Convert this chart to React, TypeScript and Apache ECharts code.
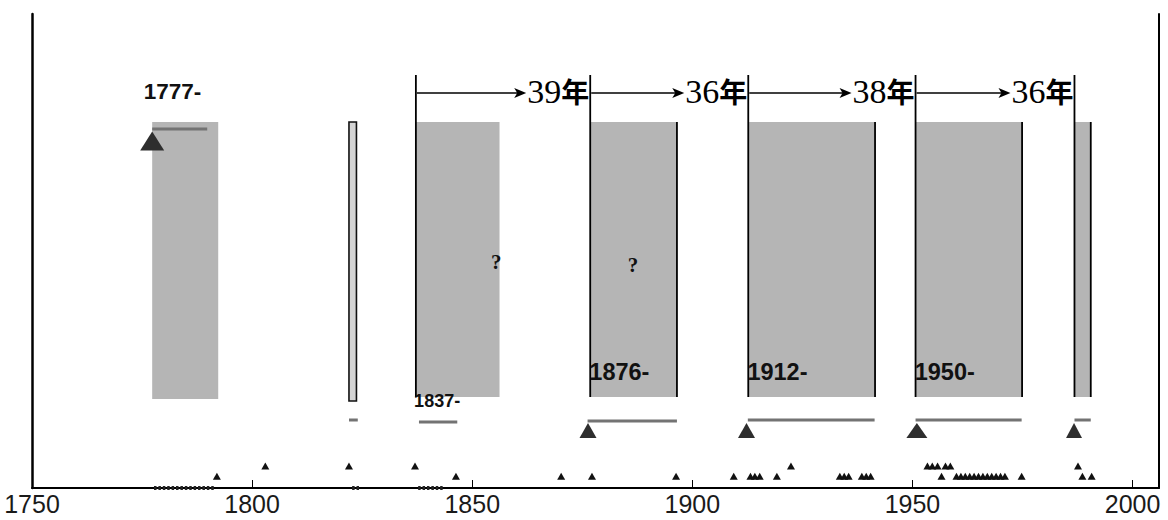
import React, { useEffect, useRef } from 'react';
import * as echarts from 'echarts';

// ---- axis ----
const X_MIN = 1750;
const X_MAX = 2006;
const X_INTERVAL = 50;
const Y_MIN = 0;
const Y_MAX = 474;

// ---- shaded periods (years, vertical levels) ----
const periodStart = [1777.3, 1837.2, 1876.8, 1912.7, 1950.7, 1986.9];
const periodEnd = [1792.3, 1856.2, 1896.5, 1941.5, 1974.9, 1990.5];
const periodTop = [366, 366, 366, 366, 366, 366];
const periodBottom = [89, 91, 91, 91, 91, 91];

// thin outlined period
const thinStart = [1822.0];
const thinEnd = [1823.7];
const thinTop = [366];
const thinBottom = [87];

// right edge black lines of periods
const rightLineYears = [1896.5, 1941.5, 1974.9, 1990.5];
const rightLineTop = 366;
const rightLineBottom = 91;

// brackets (start of cycles) and intervals
const bracketYears = [1837.2, 1876.8, 1912.7, 1950.7, 1986.8];
const bracketTop = 413;
const bracketBottom = 91;
const arrowLevel = 395;
const intervalLabels = ['39', '36', '38', '36'];

// gray horizontal bars
const barStart = [1777.3, 1822.0, 1837.9, 1876.2, 1912.6, 1950.7, 1986.8];
const barEnd = [1789.8, 1824.0, 1846.6, 1896.5, 1941.4, 1974.8, 1990.5];
const barLevel = [359, 68, 66, 67, 68, 68, 68];

// big triangles
const bigTriYears = [1777.3, 1876.3, 1912.3, 1951.0, 1986.7];
const bigTriLevel = [347, 57.5, 57.5, 57.5, 57.5];
const bigTriW = [24, 17, 17, 21, 16];
const bigTriH = [19, 15, 15, 15, 15];

// small triangles, upper and lower rows
const smallUpperYears = [1803, 1822, 1837, 1922.4, 1953.4, 1954.5, 1955.7, 1957.5, 1958.6, 1987.6];
const smallUpperLevel = 22;
const smallLowerYears = [
  1792, 1846.3, 1870.2, 1877.2, 1896.3, 1909.4, 1913.2, 1914.2, 1915.3, 1919.2,
  1933.5, 1934.5, 1935.5, 1938.5, 1939.5, 1940.5, 1956.6,
  1960, 1961, 1962, 1963, 1964, 1965, 1966, 1967, 1968, 1969, 1970, 1971,
  1974.8, 1988.6, 1990.7,
];
const smallLowerLevel = 11.7;

// tiny dots on the axis
const dotYears = [
  1778, 1779, 1780, 1781, 1782, 1783, 1784, 1785, 1786, 1787, 1788, 1789, 1790, 1791,
  1823, 1824,
  1838, 1839, 1840, 1841, 1842, 1843,
];

// text labels
const labelText = ['1777-', '1837-', '1876-', '1912-', '1950-'];
const labelYear = [1775.4, 1836.8, 1876.6, 1912.5, 1950.5];
const labelLevel = [397, 87, 116.5, 116.5, 116.5];
const labelSize = [22.5, 18, 23.5, 23.5, 23.5];

const qYears = [1855.45, 1886.5];
const qLevel = [226, 223];

export default function App() {
  const ref = useRef<HTMLDivElement>(null);

  useEffect(() => {
    if (!ref.current) return;
    const chart = echarts.init(ref.current, null, { renderer: 'svg' });

    const periodData = periodStart.map((s, i) => [s, periodEnd[i], periodTop[i], periodBottom[i]]);
    const thinData = thinStart.map((s, i) => [s, thinEnd[i], thinTop[i], thinBottom[i]]);
    const vLines = [
      ...bracketYears.map((y) => [y, bracketTop, bracketBottom]),
      ...rightLineYears.map((y) => [y, rightLineTop, rightLineBottom]),
    ];
    const arrowData = intervalLabels.map((_, i) => [bracketYears[i], bracketYears[i + 1], arrowLevel]);
    const barData = barStart.map((s, i) => [s, barEnd[i], barLevel[i]]);

    const option: any = {
      animation: false,
      grid: { left: 32, right: 9, top: 14, bottom: 32, containLabel: false, outerBoundsMode: 'none' },
      xAxis: {
        type: 'value',
        min: X_MIN,
        max: X_MAX,
        interval: X_INTERVAL,
        axisLine: { show: true, lineStyle: { color: '#000', width: 2 } },
        axisTick: { show: true, inside: true, length: 8, lineStyle: { color: '#000', width: 1 } },
        axisLabel: {
          show: true,
          margin: 4,
          fontSize: 25,
          lineHeight: 24,
          fontFamily: 'Liberation Sans',
          color: '#1a1a1a',
          showMaxLabel: false,
          formatter: (v: number) => (v % 50 === 0 ? String(v) : ''),
        },
        splitLine: { show: false },
      },
      yAxis: [
        {
          type: 'value',
          min: Y_MIN,
          max: Y_MAX,
          axisLine: { show: true, lineStyle: { color: '#000', width: 2.5 } },
          axisTick: { show: false },
          axisLabel: { show: false },
          splitLine: { show: false },
        },
        {
          type: 'value',
          position: 'right',
          min: Y_MIN,
          max: Y_MAX,
          axisLine: { show: true, lineStyle: { color: '#000', width: 2 } },
          axisTick: { show: false },
          axisLabel: { show: false },
          splitLine: { show: false },
        },
      ],
      series: [
        {
          type: 'custom',
          name: 'periods',
          data: periodData,
          renderItem: (params: any, api: any) => {
            const p1 = api.coord([api.value(0), api.value(2)]);
            const p2 = api.coord([api.value(1), api.value(3)]);
            return {
              type: 'rect',
              shape: { x: p1[0], y: p1[1], width: p2[0] - p1[0], height: p2[1] - p1[1] },
              style: { fill: '#b5b5b5' },
            };
          },
        },
        {
          type: 'custom',
          name: 'thin',
          data: thinData,
          renderItem: (params: any, api: any) => {
            const p1 = api.coord([api.value(0), api.value(2)]);
            const p2 = api.coord([api.value(1), api.value(3)]);
            return {
              type: 'rect',
              shape: { x: p1[0], y: p1[1], width: p2[0] - p1[0], height: p2[1] - p1[1] },
              style: { fill: '#d4d4d4', stroke: '#111', lineWidth: 1.6 },
            };
          },
        },
        {
          type: 'custom',
          name: 'vlines',
          data: vLines,
          renderItem: (params: any, api: any) => {
            const p1 = api.coord([api.value(0), api.value(1)]);
            const p2 = api.coord([api.value(0), api.value(2)]);
            return {
              type: 'line',
              shape: { x1: p1[0], y1: p1[1], x2: p2[0], y2: p2[1] },
              style: { stroke: '#000', lineWidth: 1.8 },
            };
          },
        },
        {
          type: 'custom',
          name: 'arrows',
          data: arrowData,
          renderItem: (params: any, api: any) => {
            const a = api.coord([api.value(0), api.value(2)]);
            const b = api.coord([api.value(1), api.value(2)]);
            const lab = intervalLabels[params.dataIndex];
            const textW = 64;
            const tipX = b[0] - textW;
            const y = a[1];
            return {
              type: 'group',
              children: [
                {
                  type: 'line',
                  shape: { x1: a[0] + 1, y1: y, x2: tipX - 6, y2: y },
                  style: { stroke: '#000', lineWidth: 1.6 },
                },
                {
                  type: 'polygon',
                  shape: { points: [[tipX - 12, y - 5], [tipX, y], [tipX - 12, y + 5], [tipX - 9, y]] },
                  style: { fill: '#000' },
                },
                {
                  type: 'text',
                  x: b[0] - 1,
                  y: y - 2,
                  style: {
                    text: '{n|' + lab + '}{c|年}',
                    align: 'right',
                    verticalAlign: 'middle',
                    rich: {
                      n: { fontFamily: 'Liberation Serif', fontSize: 34, fill: '#000' },
                      c: { fontFamily: 'Noto Sans CJK SC', fontSize: 28, fontWeight: 'bold', fill: '#000' },
                    },
                  },
                },
              ],
            };
          },
        },
        {
          type: 'custom',
          name: 'bars',
          data: barData,
          renderItem: (params: any, api: any) => {
            const p1 = api.coord([api.value(0), api.value(2)]);
            const p2 = api.coord([api.value(1), api.value(2)]);
            return {
              type: 'line',
              shape: { x1: p1[0], y1: p1[1], x2: p2[0], y2: p2[1] },
              style: { stroke: '#737373', lineWidth: 3 },
            };
          },
        },
        {
          type: 'scatter',
          name: 'bigTri',
          symbol: 'triangle',
          data: bigTriYears.map((y, i) => ({
            value: [y, bigTriLevel[i]],
            symbolSize: [bigTriW[i], bigTriH[i]],
          })),
          itemStyle: { color: '#2e2e2e', opacity: 1 },
          silent: true,
          clip: false,
        },
        {
          type: 'scatter',
          name: 'smallUpper',
          symbol: 'triangle',
          symbolSize: [8, 7],
          data: smallUpperYears.map((y) => [y, smallUpperLevel]),
          itemStyle: { color: '#111', opacity: 1 },
          silent: true,
          clip: false,
        },
        {
          type: 'scatter',
          name: 'smallLower',
          symbol: 'triangle',
          symbolSize: [8, 7],
          data: smallLowerYears.map((y) => [y, smallLowerLevel]),
          itemStyle: { color: '#111', opacity: 1 },
          silent: true,
          clip: false,
        },
        {
          type: 'scatter',
          name: 'dots',
          symbol: 'rect',
          symbolSize: [2.5, 4],
          data: dotYears.map((y) => [y, 0]),
          itemStyle: { color: '#222', opacity: 1 },
          silent: true,
          clip: false,
          z: 5,
        },
        {
          type: 'custom',
          name: 'labels',
          data: labelYear.map((y, i) => [y, labelLevel[i]]),
          z: 6,
          renderItem: (params: any, api: any) => {
            const p = api.coord([api.value(0), api.value(1)]);
            const i = params.dataIndex;
            return {
              type: 'text',
              x: p[0],
              y: p[1],
              style: {
                text: labelText[i],
                align: 'left',
                verticalAlign: 'middle',
                fontFamily: 'Liberation Sans',
                fontWeight: 'bold',
                fontSize: labelSize[i],
                fill: '#111',
              },
            };
          },
        },
        {
          type: 'custom',
          name: 'questions',
          data: qYears.map((y, i) => [y, qLevel[i]]),
          z: 6,
          renderItem: (params: any, api: any) => {
            const p = api.coord([api.value(0), api.value(1)]);
            return {
              type: 'text',
              x: p[0],
              y: p[1],
              style: {
                text: '?',
                align: 'center',
                verticalAlign: 'middle',
                fontFamily: 'Liberation Serif',
                fontWeight: 'bold',
                fontSize: 21,
                fill: '#111',
              },
            };
          },
        },
      ],
    };

    chart.setOption(option);
    return () => chart.dispose();
  }, []);

  return (
    <div
      ref={ref}
      style={{ position: 'absolute', left: 0, top: 0, width: 1168, height: 520, background: '#fff' }}
    />
  );
}
